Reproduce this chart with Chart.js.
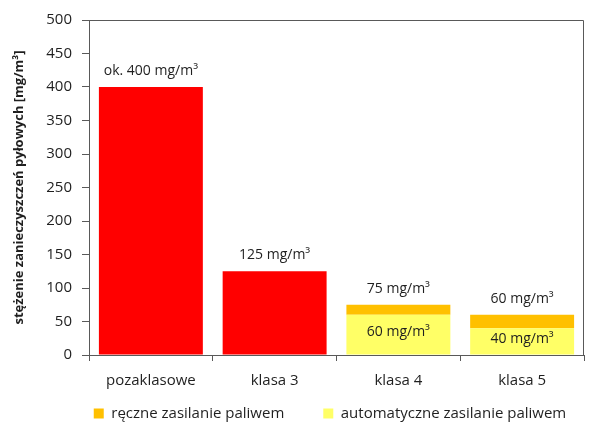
<!DOCTYPE html>
<html>
<head>
<meta charset="utf-8">
<script src="https://cdn.jsdelivr.net/npm/chart.js@4"></script>
<style>
  html, body { margin: 0; padding: 0; background: #fff; }
  #wrap { width: 600px; height: 437px; }
</style>
</head>
<body>
<div id="wrap"><canvas id="dust"></canvas></div>
<script>
// data
const categories = ["pozaklasowe", "klasa 3", "klasa 4", "klasa 5"];
const redValues = [400, 125, null, null];
const autoValues = [null, null, 60, 40];     // automatyczne zasilanie paliwem
const manualValues = [null, null, 15, 20];   // ręczne zasilanie paliwem
const topLabels = ["ok. 400 mg/m³", "125 mg/m³", "75 mg/m³", "60 mg/m³"];
const innerLabels = [null, null, "60 mg/m³", "40 mg/m³"];
const yTicks = [0, 50, 100, 150, 200, 250, 300, 350, 400, 450, 500];

const textColor = "#1f1f1f";
const axisColor = "#595959";
const font = "'Open Sans'";

// frame on top/right + value labels
const barLabels = {
  id: "barLabels",
  afterLayout(chart) {
    // nudge the legend to sit under the plot, like in the original
    const lg = chart.legend;
    lg.left += 38;
    lg.right += 38;
    lg.top -= 28;
    lg.bottom -= 28;
  },
  afterDatasetsDraw(chart) {
    const { ctx, chartArea } = chart;
    ctx.save();
    ctx.strokeStyle = axisColor;
    ctx.lineWidth = 1;
    ctx.beginPath();
    ctx.moveTo(chartArea.left, chartArea.top + 0.5);
    ctx.lineTo(chartArea.right - 0.5, chartArea.top + 0.5);
    ctx.lineTo(chartArea.right - 0.5, chartArea.bottom);
    ctx.stroke();

    ctx.fillStyle = textColor;
    ctx.font = "14px " + font;
    ctx.textAlign = "center";
    ctx.textBaseline = "middle";
    const y = chart.scales.y;
    categories.forEach((c, i) => {
      let top = 0;
      [redValues, autoValues, manualValues].forEach(arr => { top += arr[i] || 0; });
      const x = chart.scales.x.getPixelForValue(i);
      ctx.fillText(topLabels[i], x, y.getPixelForValue(top) - 16);
      if (innerLabels[i]) {
        const mid = y.getPixelForValue(autoValues[i] / 2);
        ctx.fillText(innerLabels[i], x, mid - 3);
      }
    });
    ctx.restore();
  }
};

new Chart(document.getElementById("dust"), {
  type: "bar",
  data: {
    labels: categories,
    datasets: [
      {
        label: "red",
        data: redValues,
        backgroundColor: "#ff0000",
        barPercentage: 0.84,
        categoryPercentage: 1
      },
      {
        label: "automatyczne zasilanie paliwem",
        data: autoValues,
        backgroundColor: "#ffff66",
        barPercentage: 0.84,
        categoryPercentage: 1
      },
      {
        label: "ręczne zasilanie paliwem",
        data: manualValues,
        backgroundColor: "#ffc000",
        barPercentage: 0.84,
        categoryPercentage: 1
      }
    ]
  },
  options: {
    responsive: true,
    maintainAspectRatio: false,
    animation: false,
    layout: { padding: { top: 20, right: 16, left: 0, bottom: -22 } },
    plugins: {
      legend: {
        position: "bottom",
        reverse: true,
        labels: {
          boxWidth: 10,
          boxHeight: 10,
          padding: 39,
          color: textColor,
          font: { family: font, size: 15 },
          filter: item => item.text !== "red"
        }
      },
      tooltip: { enabled: false }
    },
    scales: {
      x: {
        stacked: true,
        afterFit: s => { s.height = 40; },
        border: { color: axisColor },
        grid: { offset: true, drawOnChartArea: false, tickLength: 6, color: axisColor },
        ticks: { color: textColor, font: { family: font, size: 15 }, padding: 11 }
      },
      y: {
        stacked: true,
        min: 0,
        max: 500,
        afterFit: s => { s.width = 89; },
        afterBuildTicks: s => { s.ticks = yTicks.map(v => ({ value: v })); },
        border: { color: axisColor },
        grid: { drawOnChartArea: false, tickLength: 7, color: axisColor },
        ticks: { color: textColor, font: { family: font, size: 15 }, padding: 10 },
        title: {
          display: true,
          text: "stężenie zanieczyszczeń pyłowych [mg/m³]",
          color: textColor,
          font: { family: font, size: 13, weight: "bold" },
          padding: { top: 11, bottom: 0 }
        }
      }
    }
  },
  plugins: [barLabels]
});
</script>
</body>
</html>
